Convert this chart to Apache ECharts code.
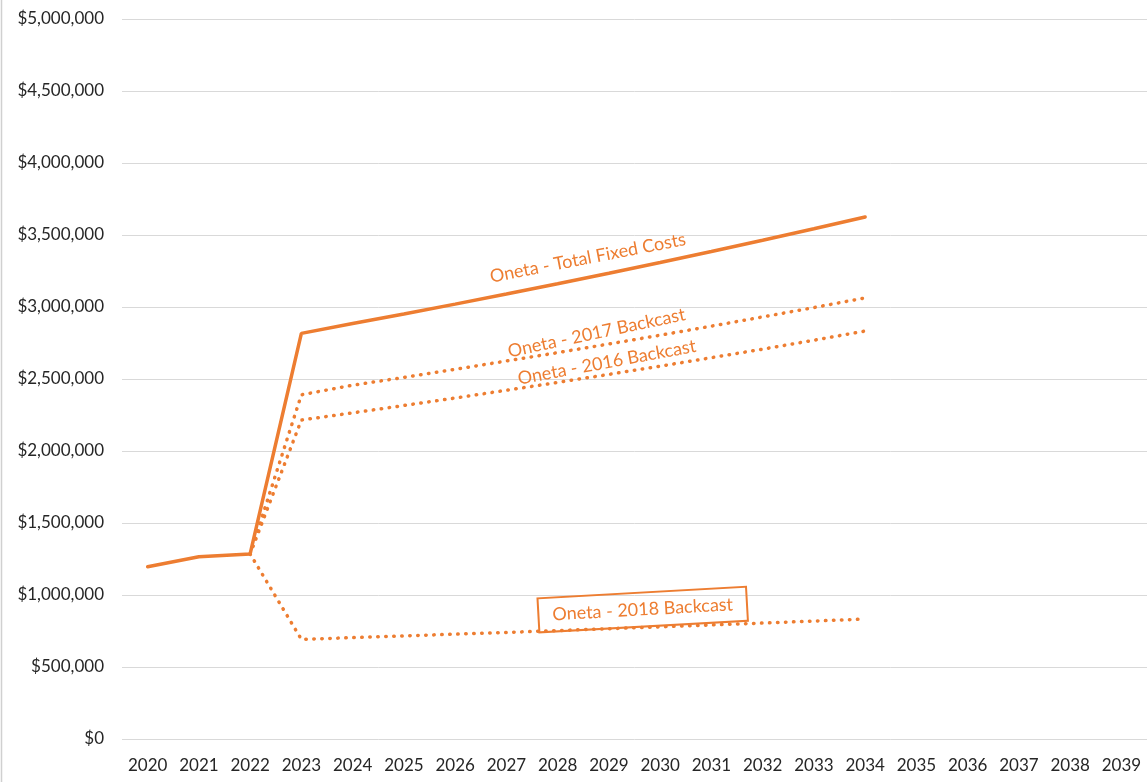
<!DOCTYPE html>
<html>
<head>
<meta charset="utf-8">
<script src="https://cdn.jsdelivr.net/npm/echarts@6/dist/echarts.min.js"></script>
<style>
html,body{margin:0;padding:0;background:#fff;}
#main{width:1147px;height:782px;}
</style>
</head>
<body>
<div id="main"></div>
<script>
const years = ['2020','2021','2022','2023','2024','2025','2026','2027','2028','2029','2030','2031','2032','2033','2034','2035','2036','2037','2038','2039'];
const totalFixedCosts = [1196000,1266000,1285000,2817000,2885000,2952000,3020000,3090000,3161000,3234000,3309000,3385000,3463000,3543000,3625000,null,null,null,null,null];
const backcast2017 = [null,null,1285000,2390000,2457000,2511000,2567000,2625000,2683000,2743000,2804000,2867000,2931000,2996000,3063000,null,null,null,null,null];
const backcast2016 = [null,null,1285000,2215000,2265000,2316000,2368000,2422000,2476000,2532000,2589000,2648000,2707000,2769000,2833000,null,null,null,null,null];
const backcast2018 = [null,null,1285000,692000,704000,716000,728000,740000,753000,766000,779000,792000,805000,819000,833000,null,null,null,null,null];
const seriesNames = ['Oneta - Total Fixed Costs','Oneta - 2017 Backcast','Oneta - 2016 Backcast','Oneta - 2018 Backcast'];

const ORANGE = '#ED7D31';
const chart = echarts.init(document.getElementById('main'));
const dotted = {color: ORANGE, width: 3.5, type: [0.5, 7.5], cap: 'round'};
chart.setOption({
  animation: false,
  backgroundColor: '#fff',
  grid: {left: 122, right: 0, top: 19, bottom: 43, containLabel: false},
  xAxis: {
    type: 'category', data: years, boundaryGap: true,
    axisLine: {show: false}, axisTick: {show: false},
    axisLabel: {color: '#262626', fontFamily: 'Lato', fontSize: 17, margin: 18, interval: 0}
  },
  yAxis: {
    type: 'value', min: 0, max: 5000000, interval: 500000,
    axisLine: {show: false}, axisTick: {show: false},
    splitLine: {lineStyle: {color: '#d9d9d9', width: 1}},
    axisLabel: {color: '#262626', fontFamily: 'Lato', fontSize: 17, margin: 18,
      formatter: v => '$' + v.toLocaleString('en-US')}
  },
  series: [
    {name: seriesNames[1], type: 'line', data: backcast2017, showSymbol: false, lineStyle: dotted, z: 2},
    {name: seriesNames[2], type: 'line', data: backcast2016, showSymbol: false, lineStyle: dotted, z: 2},
    {name: seriesNames[3], type: 'line', data: backcast2018, showSymbol: false, lineStyle: dotted, z: 2},
    {name: seriesNames[0], type: 'line', data: totalFixedCosts, showSymbol: false, lineStyle: {color: ORANGE, width: 3.5, cap: 'round'}, z: 3}
  ]
});

// pixel position for a fractional category index (interpolated between neighbouring categories)
function px(idx, val) {
  const i0 = Math.floor(idx), t = idx - i0;
  const a = chart.convertToPixel({gridIndex: 0}, [i0, val]);
  const b = chart.convertToPixel({gridIndex: 0}, [i0 + 1, val]);
  return [a[0] + (b[0] - a[0]) * t, a[1]];
}
const deg = Math.PI / 180;
const lab = (name, idx, val, rot, extra) => {
  const p = px(idx, val);
  return {
    type: 'text', x: p[0], y: p[1], rotation: rot * deg, z: 10,
    style: Object.assign({text: name, fill: ORANGE, font: '18px Lato', align: 'center', verticalAlign: 'middle'}, extra || {})
  };
};
chart.setOption({
  graphic: [
    {type: 'line', shape: {x1: 1.5, y1: 0, x2: 1.5, y2: 782}, style: {stroke: '#d0d0d0', lineWidth: 1.5}},
    lab(seriesNames[0], 8.59, 3340000, 11),
    lab(seriesNames[1], 8.76, 2820000, 12),
    lab(seriesNames[2], 8.96, 2615000, 10.5),
    lab(seriesNames[3], 9.66, 899000, 3.2, {borderColor: ORANGE, borderWidth: 1, padding: [8, 14, 8, 14], backgroundColor: 'rgba(255,255,255,0)'})
  ]
});
</script>
</body>
</html>
